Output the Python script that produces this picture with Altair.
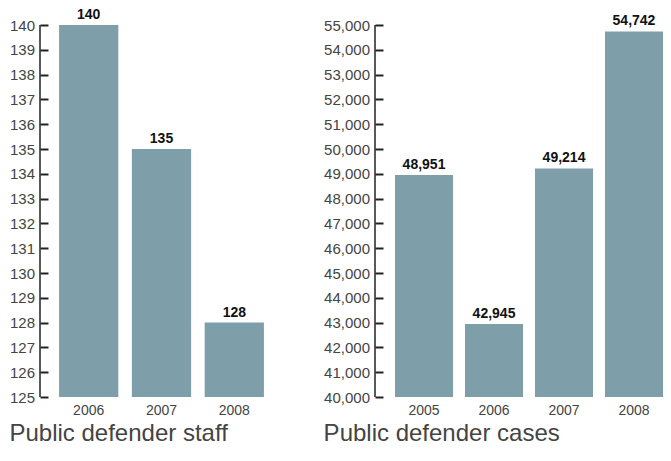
import altair as alt
import pandas as pd

staff_years = ["2006", "2007", "2008"]
staff_values = [140, 135, 128]
staff_ticks = list(range(125, 141))

cases_years = ["2005", "2006", "2007", "2008"]
cases_values = [48951, 42945, 49214, 54742]
cases_ticks = list(range(40000, 55001, 1000))

BAR = "#7e9eaa"
FONT = "Liberation Sans"
TXT = "#444444"
PLOT_H = 372


def panel(years, values, ticks, fmt, title, width, pinner, pouter, align):
    df = pd.DataFrame({"year": years, "value": values})
    lo, hi = ticks[0], ticks[-1]
    xscale = alt.Scale(paddingInner=pinner, paddingOuter=pouter, align=align)
    xaxis = alt.Axis(ticks=False, domain=False, labelAngle=0, labelFontSize=14,
                     labelColor=TXT, labelFont=FONT, labelPadding=6, tickSize=0)
    yscale = alt.Scale(domain=[lo, hi], nice=False, zero=False)
    yaxis = alt.Axis(values=ticks, format=",.0f", offset=-8, tickSize=8, tickWidth=2,
                     tickColor="#222222", domain=False, grid=False, labelFontSize=15,
                     labelColor=TXT, labelFont=FONT, labelPadding=5.5,
                     labelOverlap=False, labelFlush=False)
    base = alt.Chart(df)
    bars = base.mark_bar(color=BAR).encode(
        x=alt.X("year:N", sort=years, title=None, scale=xscale, axis=xaxis),
        y=alt.Y("value:Q", title=None, scale=yscale, axis=yaxis),
        y2=alt.datum(lo),
    )
    labels = base.mark_text(
        baseline="alphabetic", dy=-6, fontSize=14, fontWeight="bold", font=FONT, color="#111111"
    ).encode(
        x=alt.X("year:N", sort=years, title=None, scale=xscale, axis=xaxis),
        y=alt.Y("value:Q", title=None, scale=yscale, axis=yaxis),
        text=alt.Text("value:Q", format=fmt),
    )
    axis_line = alt.Chart(pd.DataFrame({"lo": [lo], "hi": [hi]})).mark_rule(
        color="#222222", strokeWidth=1.5
    ).encode(
        x=alt.value(0),
        y=alt.Y("lo:Q", title=None, scale=yscale, axis=yaxis),
        y2="hi:Q",
    )
    return alt.layer(bars, labels, axis_line).properties(
        width=width, height=PLOT_H,
        title=alt.TitleParams(title, orient="bottom", anchor="start", frame="bounds",
                              fontSize=24, font=FONT, fontWeight="normal", color=TXT, offset=5),
    )


left = panel(staff_years, staff_values, staff_ticks, ",", "Public defender staff",
             243, 0.186, 0.262, 0.5)
right = panel(cases_years, cases_values, cases_ticks, ",", "Public defender cases",
              288, 0.171, 0.143, 1.0)

chart = alt.hconcat(left, right, spacing=40).properties(
    padding={"left": 1, "top": 0, "right": 0, "bottom": 0}
).configure_view(stroke=None)

chart.save("out.html", embed_options={"renderer": "svg", "actions": False})
